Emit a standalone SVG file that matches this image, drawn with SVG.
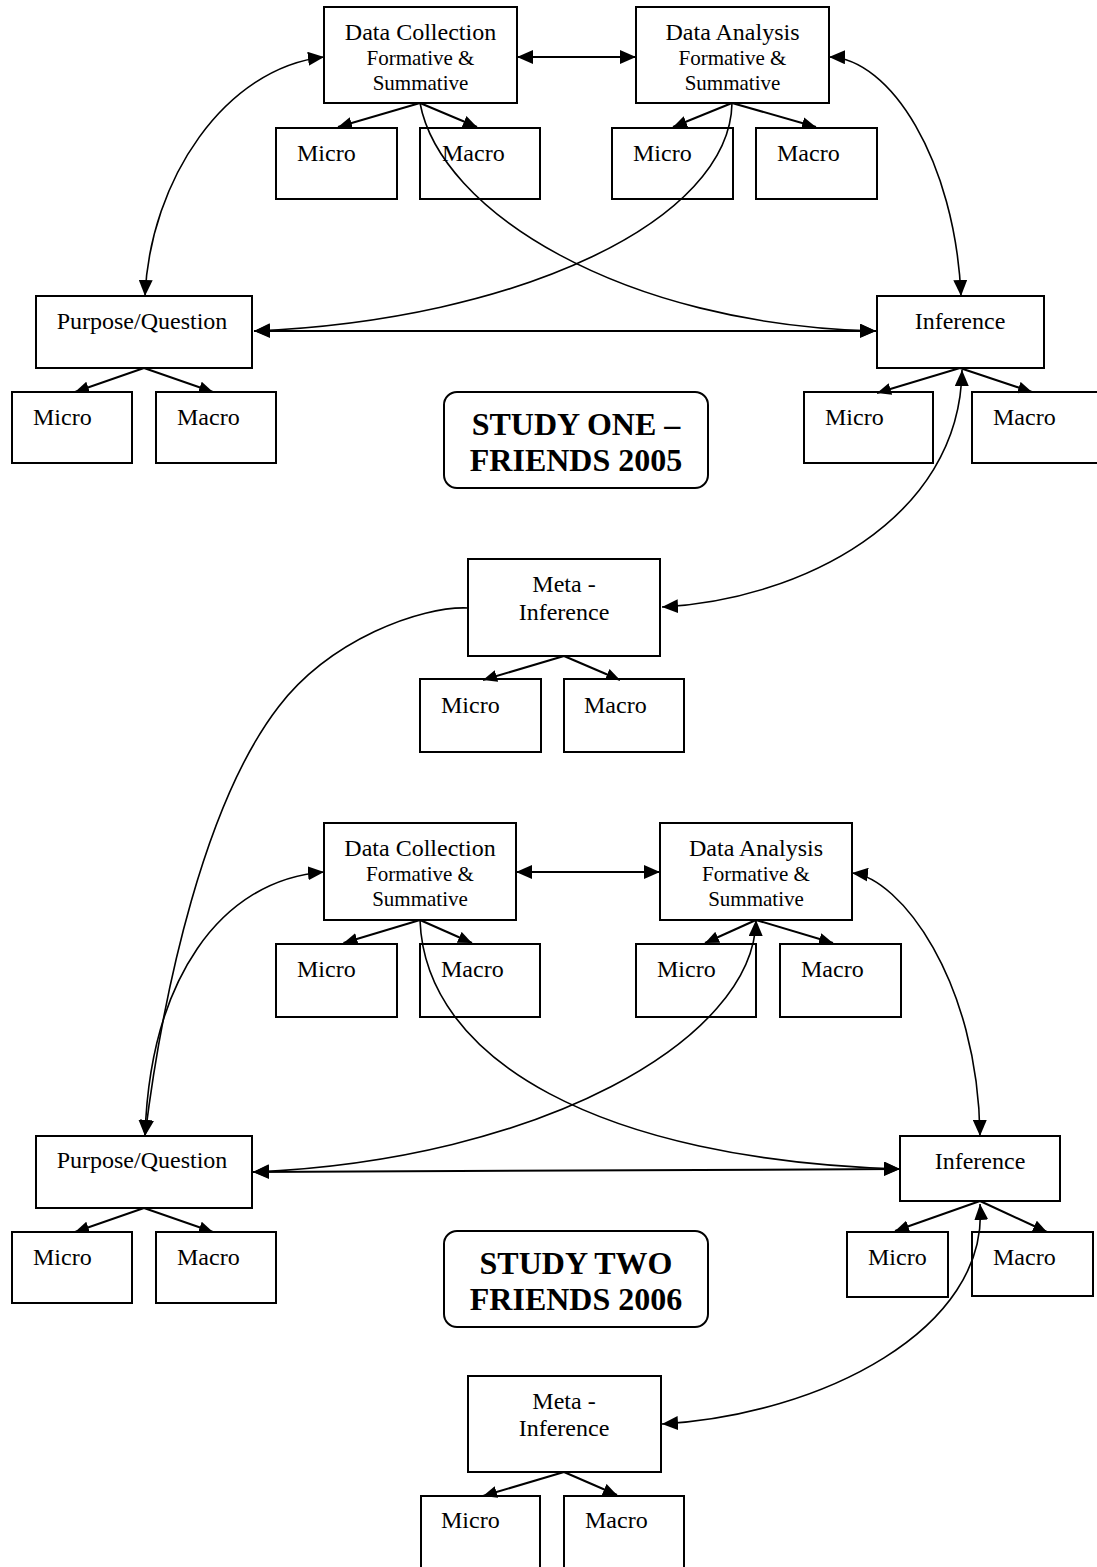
<svg xmlns="http://www.w3.org/2000/svg" width="1097" height="1567" viewBox="0 0 1097 1567">
<style>
  .box{fill:#fff;stroke:#000;stroke-width:2}
  .rbox{fill:#fff;stroke:#000;stroke-width:2}
  .t{font-family:"Liberation Serif","Times New Roman",serif;font-size:24px;fill:#000}
  .s{font-family:"Liberation Serif","Times New Roman",serif;font-size:21px;fill:#000}
  .c{text-anchor:middle}
  .b{font-family:"Liberation Serif","Times New Roman",serif;font-size:32px;font-weight:bold;fill:#000;text-anchor:middle}
  .ln{fill:none;stroke:#000;stroke-width:2}
  .cv{fill:none;stroke:#000;stroke-width:1.6}
  .big{marker-end:url(#ah)}
  .both{marker-start:url(#ah);marker-end:url(#ah)}
  .sm{marker-end:url(#as)}
</style>
<defs>
  <marker id="ah" viewBox="0 0 16 14" refX="16" refY="7" markerWidth="16" markerHeight="14" markerUnits="userSpaceOnUse" orient="auto-start-reverse">
    <path d="M0,0 L16,7 L0,14 z" fill="#000"/>
  </marker>
  <marker id="as" viewBox="0 0 14 12" refX="14" refY="6" markerWidth="14" markerHeight="12" markerUnits="userSpaceOnUse" orient="auto-start-reverse">
    <path d="M0,0 L14,6 L0,12 z" fill="#000"/>
  </marker>
</defs>
<rect width="1097" height="1567" fill="#fff"/>

<!-- Section 1 nodes -->
<g id="dc1"><rect class="box" x="324" y="7" width="193" height="96"/>
  <text class="t c" x="420.5" y="40">Data Collection</text>
  <text class="s c" x="420.5" y="65">Formative &amp;</text>
  <text class="s c" x="420.5" y="90">Summative</text></g>
<g id="da1"><rect class="box" x="636" y="7" width="193" height="96"/>
  <text class="t c" x="732.5" y="40">Data Analysis</text>
  <text class="s c" x="732.5" y="65">Formative &amp;</text>
  <text class="s c" x="732.5" y="90">Summative</text></g>
<g id="dc1-micro"><rect class="box" x="276" y="128" width="121" height="71"/><text class="t" x="297" y="161">Micro</text></g>
<g id="dc1-macro"><rect class="box" x="420" y="128" width="120" height="71"/><text class="t" x="442" y="161">Macro</text></g>
<g id="da1-micro"><rect class="box" x="612" y="128" width="121" height="71"/><text class="t" x="633" y="161">Micro</text></g>
<g id="da1-macro"><rect class="box" x="756" y="128" width="121" height="71"/><text class="t" x="777" y="161">Macro</text></g>
<g id="pq1"><rect class="box" x="36" y="296" width="216" height="72"/><text class="t c" x="142" y="329">Purpose/Question</text></g>
<g id="pq1-micro"><rect class="box" x="12" y="392" width="120" height="71"/><text class="t" x="33" y="425">Micro</text></g>
<g id="pq1-macro"><rect class="box" x="156" y="392" width="120" height="71"/><text class="t" x="177" y="425">Macro</text></g>
<g id="inf1"><rect class="box" x="877" y="296" width="167" height="72"/><text class="t c" x="960" y="329">Inference</text></g>
<g id="inf1-micro"><rect class="box" x="804" y="392" width="129" height="71"/><text class="t" x="825" y="425">Micro</text></g>
<g id="inf1-macro"><rect class="box" x="972" y="392" width="130" height="71"/><text class="t" x="993" y="425">Macro</text></g>
<g id="study1"><rect class="rbox" x="444" y="392" width="264" height="96" rx="13"/>
  <text class="b" x="576" y="435">STUDY ONE –</text>
  <text class="b" x="576" y="471">FRIENDS 2005</text></g>
<g id="meta1"><rect class="box" x="468" y="559" width="192" height="97"/>
  <text class="t c" x="564" y="592">Meta -</text>
  <text class="t c" x="564" y="620">Inference</text></g>
<g id="meta1-micro"><rect class="box" x="420" y="679" width="121" height="73"/><text class="t" x="441" y="713">Micro</text></g>
<g id="meta1-macro"><rect class="box" x="564" y="679" width="120" height="73"/><text class="t" x="584" y="713">Macro</text></g>

<!-- Section 2 nodes -->
<g id="dc2"><rect class="box" x="324" y="823" width="192" height="97"/>
  <text class="t c" x="420" y="856">Data Collection</text>
  <text class="s c" x="420" y="881">Formative &amp;</text>
  <text class="s c" x="420" y="906">Summative</text></g>
<g id="da2"><rect class="box" x="660" y="823" width="192" height="97"/>
  <text class="t c" x="756" y="856">Data Analysis</text>
  <text class="s c" x="756" y="881">Formative &amp;</text>
  <text class="s c" x="756" y="906">Summative</text></g>
<g id="dc2-micro"><rect class="box" x="276" y="944" width="121" height="73"/><text class="t" x="297" y="977">Micro</text></g>
<g id="dc2-macro"><rect class="box" x="420" y="944" width="120" height="73"/><text class="t" x="441" y="977">Macro</text></g>
<g id="da2-micro"><rect class="box" x="636" y="944" width="120" height="73"/><text class="t" x="657" y="977">Micro</text></g>
<g id="da2-macro"><rect class="box" x="780" y="944" width="121" height="73"/><text class="t" x="801" y="977">Macro</text></g>
<g id="pq2"><rect class="box" x="36" y="1136" width="216" height="72"/><text class="t c" x="142" y="1168">Purpose/Question</text></g>
<g id="pq2-micro"><rect class="box" x="12" y="1232" width="120" height="71"/><text class="t" x="33" y="1265">Micro</text></g>
<g id="pq2-macro"><rect class="box" x="156" y="1232" width="120" height="71"/><text class="t" x="177" y="1265">Macro</text></g>
<g id="inf2"><rect class="box" x="900" y="1136" width="160" height="65"/><text class="t c" x="980" y="1169">Inference</text></g>
<g id="inf2-micro"><rect class="box" x="847" y="1232" width="101" height="65"/><text class="t" x="868" y="1265">Micro</text></g>
<g id="inf2-macro"><rect class="box" x="972" y="1232" width="121" height="64"/><text class="t" x="993" y="1265">Macro</text></g>
<g id="study2"><rect class="rbox" x="444" y="1231" width="264" height="96" rx="13"/>
  <text class="b" x="576" y="1274">STUDY TWO</text>
  <text class="b" x="576" y="1310">FRIENDS 2006</text></g>
<g id="meta2"><rect class="box" x="468" y="1376" width="193" height="96"/>
  <text class="t c" x="564" y="1409">Meta -</text>
  <text class="t c" x="564" y="1436">Inference</text></g>
<g id="meta2-micro"><rect class="box" x="421" y="1496" width="119" height="76"/><text class="t" x="441" y="1528">Micro</text></g>
<g id="meta2-macro"><rect class="box" x="564" y="1496" width="120" height="76"/><text class="t" x="585" y="1528">Macro</text></g>

<!-- Connectors -->
<g id="connectors">
  <!-- section 1 -->
  <path class="ln both" d="M517,57 L636,57"/>
  <path class="ln sm" d="M420,103 L338,127"/>
  <path class="ln sm" d="M420,103 L477,127"/>
  <path class="ln sm" d="M732,103 L673,127"/>
  <path class="ln sm" d="M732,103 L816,127"/>
  <path class="cv both" d="M145,296 C150,180 225,68 324,57"/>
  <path class="cv both" d="M829,57 C890,58 955,160 961,296"/>
  <path class="cv big" d="M420,103 C440,210 620,325 876,331"/>
  <path class="cv big" d="M732,103 C730,220 520,320 254,331"/>
  <path class="ln both" d="M254,331 L876,331"/>
  <path class="ln sm" d="M144,368 L75,392"/>
  <path class="ln sm" d="M144,368 L213,392"/>
  <path class="ln sm" d="M960,368 L877,393"/>
  <path class="ln sm" d="M960,368 L1032,392"/>
  <path class="cv both" d="M962,370 C960,520 800,600 662,607"/>
  <path class="ln sm" d="M564,656 L483,680"/>
  <path class="ln sm" d="M564,656 L620,680"/>
  <path class="cv big" d="M468,608 C420,606 330,640 278.6,706.7 C205.4,801.5 163.5,987 145,1136"/>
  <!-- section 2 -->
  <path class="cv both" d="M145,1136 C150,980 220,880 324,872"/>
  <path class="ln both" d="M516,872 L660,872"/>
  <path class="ln sm" d="M420,920 L343.5,943"/>
  <path class="ln sm" d="M420,920 L472,943"/>
  <path class="ln sm" d="M756,920 L705,943"/>
  <path class="ln sm" d="M756,920 L833,943"/>
  <path class="cv both" d="M852,873 C900,878 978,980 980,1136"/>
  <path class="cv big" d="M420,920 C425,1060 600,1160 900,1169"/>
  <path class="cv both" d="M756,920 C754,1040 540,1160 253,1172"/>
  <path class="ln both" d="M253,1172 L900,1169"/>
  <path class="ln sm" d="M144,1208 L75,1232"/>
  <path class="ln sm" d="M144,1208 L213,1232"/>
  <path class="ln sm" d="M980,1201 L895,1231"/>
  <path class="ln sm" d="M980,1201 L1047,1232"/>
  <path class="cv both" d="M980,1204 C990,1330 820,1415 662,1424"/>
  <path class="ln sm" d="M564,1472 L483,1496"/>
  <path class="ln sm" d="M564,1472 L617,1495"/>
</g>
</svg>
